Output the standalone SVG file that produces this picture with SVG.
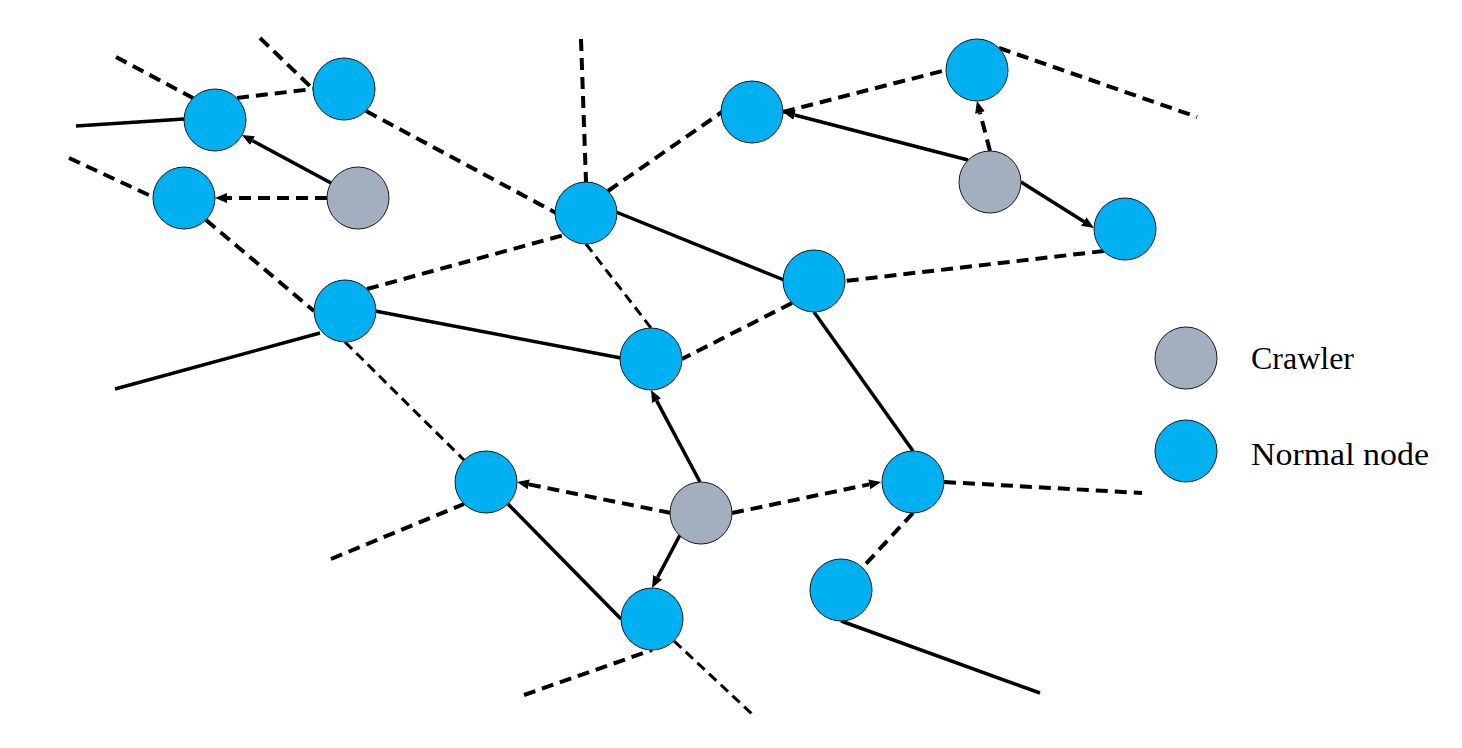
<svg xmlns="http://www.w3.org/2000/svg" width="1462" height="748" viewBox="0 0 1462 748">
<style>
.solid{stroke:#000;stroke-width:3.5;fill:none}
.dash{stroke:#000;stroke-width:4;fill:none;stroke-dasharray:12 7}
.dash2{stroke:#000;stroke-width:3;fill:none;stroke-dasharray:10 6}
.normal{fill:#00B0F0;stroke:#1a1a1a;stroke-width:1}
.crawler{fill:#A3AFBF;stroke:#1a1a1a;stroke-width:1}
.lbl{font-family:"Liberation Serif","Times New Roman",serif;font-size:31px;fill:#000}
</style>
<defs>
<marker id="ah" markerUnits="userSpaceOnUse" markerWidth="13" markerHeight="11" refX="0" refY="5" orient="auto">
<path d="M0,0 L12,5 L0,10 z" fill="#000"/>
</marker>
</defs>
<rect width="1462" height="748" fill="#fff"/>
<g id="connectors">
<line class="solid" x1="76" y1="126" x2="184" y2="119"/>
<line class="solid" x1="115" y1="389" x2="320" y2="333"/>
<line class="solid" x1="375" y1="311" x2="621" y2="358"/>
<line class="solid" x1="616" y1="212" x2="784" y2="280"/>
<line class="solid" x1="814" y1="312" x2="913" y2="451"/>
<line class="solid" x1="508" y1="504" x2="621" y2="619"/>
<line class="solid" x1="841" y1="621" x2="1040" y2="693"/>
<line class="dash" x1="116" y1="57" x2="193" y2="98"/>
<line class="dash" x1="237" y1="98" x2="313" y2="89"/>
<line class="dash" x1="260" y1="38" x2="313" y2="89"/>
<line class="dash" x1="366" y1="111" x2="556" y2="213"/>
<line class="dash" x1="581" y1="39" x2="586" y2="182"/>
<line class="dash" x1="608" y1="191" x2="722" y2="112"/>
<line class="dash" x1="783" y1="112" x2="946" y2="70"/>
<line class="dash" x1="999" y1="48" x2="1197" y2="117"/>
<line class="dash" x1="1104" y1="251" x2="845" y2="281"/>
<line class="dash" x1="69" y1="158" x2="153" y2="197"/>
<line class="dash" x1="206" y1="220" x2="314" y2="311"/>
<line class="dash" x1="367" y1="289" x2="564" y2="235"/>
<line class="dash2" x1="345" y1="342" x2="464" y2="460"/>
<line class="dash2" x1="586" y1="244" x2="651" y2="328"/>
<line class="dash" x1="792" y1="303" x2="682" y2="359"/>
<line class="dash" x1="331" y1="559" x2="464" y2="504"/>
<line class="dash" x1="944" y1="482" x2="1142" y2="493"/>
<line class="dash" x1="913" y1="513" x2="862" y2="568"/>
<line class="dash" x1="524" y1="695" x2="652" y2="650"/>
<line class="dash2" x1="674" y1="641" x2="752" y2="714"/>
<line class="solid" x1="331" y1="183" x2="252.5" y2="140.7" marker-end="url(#ah)"/>
<line class="dash" x1="327" y1="198" x2="227" y2="198" marker-end="url(#ah)"/>
<line class="solid" x1="968" y1="160" x2="794.6" y2="115" marker-end="url(#ah)"/>
<line class="dash" x1="990" y1="151" x2="980" y2="112.6" marker-end="url(#ah)"/>
<line class="solid" x1="1021" y1="182" x2="1083.8" y2="221.6" marker-end="url(#ah)"/>
<line class="solid" x1="700" y1="482" x2="656.6" y2="400.6" marker-end="url(#ah)"/>
<line class="dash" x1="671" y1="513" x2="528.8" y2="484.4" marker-end="url(#ah)"/>
<line class="dash" x1="732" y1="513" x2="869.3" y2="484.4" marker-end="url(#ah)"/>
<line class="solid" x1="680" y1="535" x2="657.6" y2="577.4" marker-end="url(#ah)"/>
</g>
<g id="nA"><circle class="normal" cx="215" cy="120" r="31"/></g>
<g id="nB"><circle class="normal" cx="344" cy="89" r="31"/></g>
<g id="nC"><circle class="normal" cx="184" cy="198" r="31"/></g>
<g id="nD"><circle class="crawler" cx="358" cy="198" r="31"/></g>
<g id="nE"><circle class="normal" cx="752" cy="112" r="31"/></g>
<g id="nF"><circle class="normal" cx="977" cy="70" r="31"/></g>
<g id="nG"><circle class="crawler" cx="990" cy="182" r="31"/></g>
<g id="nH"><circle class="normal" cx="1125" cy="229" r="31"/></g>
<g id="nI"><circle class="normal" cx="586" cy="213" r="31"/></g>
<g id="nJ"><circle class="normal" cx="814" cy="281" r="31"/></g>
<g id="nK"><circle class="normal" cx="345" cy="311" r="31"/></g>
<g id="nL"><circle class="normal" cx="651" cy="359" r="31"/></g>
<g id="nM"><circle class="normal" cx="486" cy="482" r="31"/></g>
<g id="nN"><circle class="crawler" cx="701" cy="513" r="31"/></g>
<g id="nO"><circle class="normal" cx="913" cy="482" r="31"/></g>
<g id="nP"><circle class="normal" cx="841" cy="590" r="31"/></g>
<g id="nQ"><circle class="normal" cx="652" cy="619" r="31"/></g>
<g id="legend">
<circle class="crawler" cx="1186" cy="358" r="31"/>
<text class="lbl" x="1251" y="369" textLength="103" lengthAdjust="spacingAndGlyphs">Crawler</text>
<circle class="normal" cx="1186" cy="451" r="31"/>
<text class="lbl" x="1251" y="465" textLength="178" lengthAdjust="spacingAndGlyphs">Normal node</text>
</g>
</svg>
